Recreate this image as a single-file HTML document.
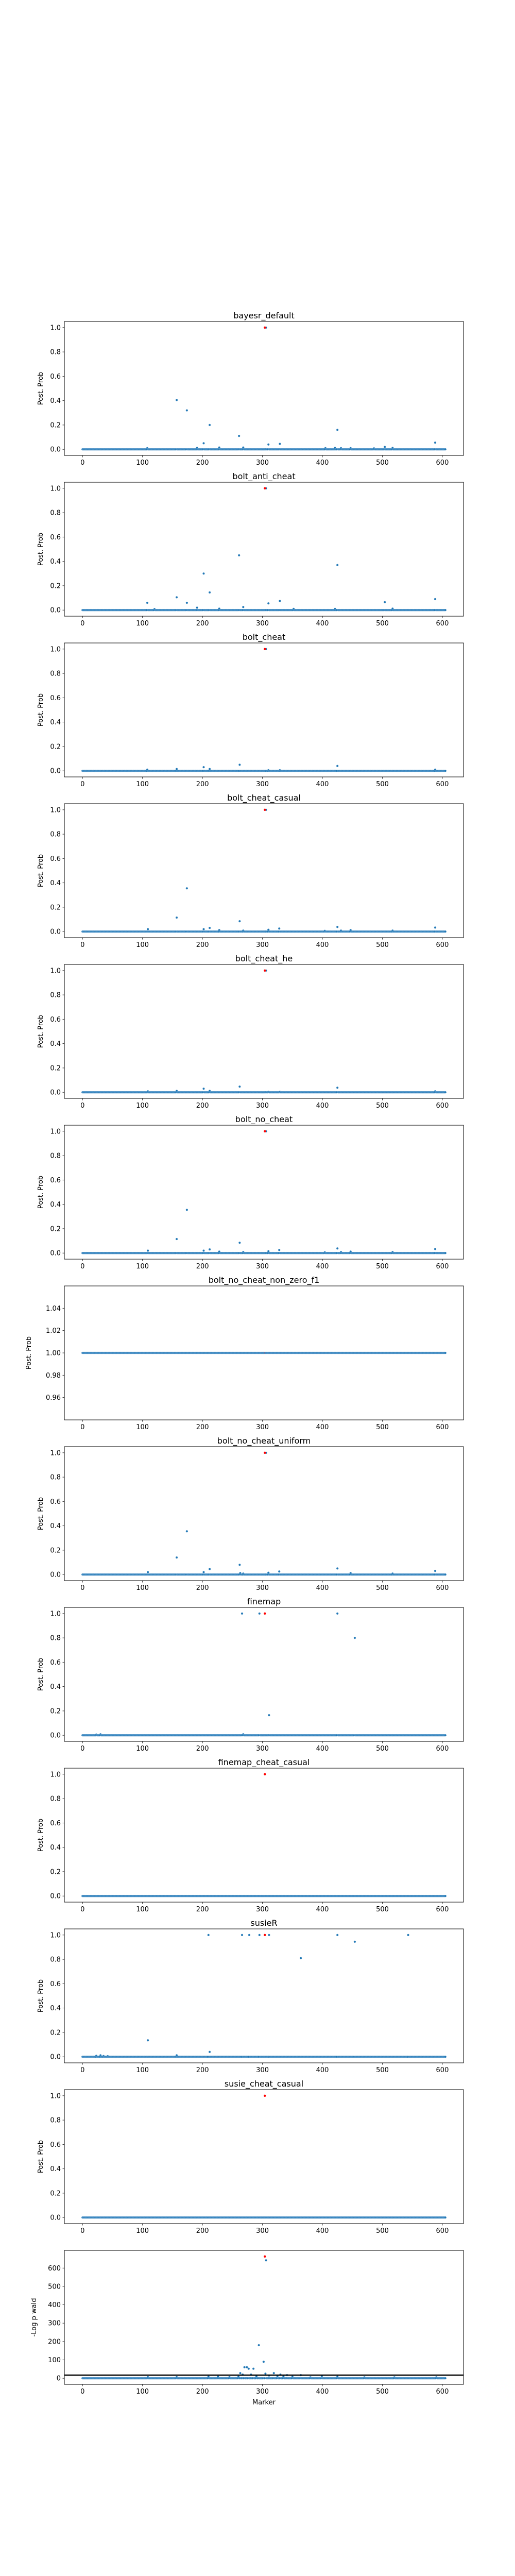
<!DOCTYPE html>
<html><head><meta charset="utf-8"><style>
html,body{margin:0;padding:0;background:#fff;width:1000px;height:5200px;overflow:hidden;position:relative;}
svg{display:block;position:absolute;left:0;top:0;font-family:"DejaVu Sans","Liberation Sans",sans-serif;}
</style></head><body><svg id="fig" width="1000" height="5200" viewBox="0 0 1000 5200" xmlns="http://www.w3.org/2000/svg"></svg><script>
// ---- data ----
const nMarkers = 606;
const causalMarker = 304;
const titles = ["bayesr_default","bolt_anti_cheat","bolt_cheat","bolt_cheat_casual","bolt_cheat_he","bolt_no_cheat","bolt_no_cheat_non_zero_f1","bolt_no_cheat_uniform","finemap","finemap_cheat_casual","susieR","susie_cheat_casual","gwas"];
const baseValues = [0,0,0,0,0,0,1,0,0,0,0,0,0];
// sparse non-baseline values: [marker, value]
const p0 = [[306,1],[157,0.405],[174,0.32],[212,0.2],[202,0.05],[261,0.11],[425,0.16],[310,0.04],[329,0.045],[504,0.02],[588,0.055],[228,0.015],[191,0.012],[405,0.01],[421,0.012],[517,0.012],[268,0.015],[108,0.01],[431,0.01],[447,0.01],[486,0.008]];
const p1 = [[306,1],[261,0.45],[425,0.37],[202,0.30],[212,0.145],[157,0.105],[174,0.06],[108,0.06],[588,0.09],[329,0.075],[504,0.065],[310,0.055],[268,0.025],[191,0.02],[228,0.012],[352,0.01],[421,0.01],[517,0.012],[120,0.008]];
const p2 = [[306,1],[262,0.05],[425,0.04],[202,0.03],[157,0.015],[212,0.015],[108,0.01],[588,0.01],[310,0.005],[329,0.005]];
const p3 = [[306,1],[157,0.115],[174,0.355],[262,0.085],[109,0.02],[202,0.02],[212,0.03],[228,0.012],[310,0.015],[328,0.025],[425,0.038],[447,0.012],[588,0.033],[517,0.008],[268,0.008],[431,0.008],[404,0.006]];
const p4 = [[306,1],[109,0.008],[157,0.012],[202,0.03],[212,0.012],[262,0.047],[425,0.038],[588,0.008],[310,0.004],[329,0.004]];
const p5 = [[306,1],[157,0.115],[174,0.355],[262,0.085],[109,0.02],[202,0.02],[212,0.03],[228,0.012],[310,0.015],[328,0.025],[425,0.038],[447,0.012],[588,0.033],[517,0.008],[268,0.008],[431,0.008],[404,0.006]];
const p6 = [];
const p7 = [[306,1],[157,0.14],[174,0.355],[262,0.08],[109,0.02],[202,0.02],[212,0.045],[425,0.05],[310,0.015],[328,0.025],[588,0.03],[447,0.012],[263,0.012],[268,0.008],[517,0.008]];
const p8 = [[266,1],[295,1],[425,1],[454,0.8],[311,0.165],[23,0.006],[30,0.008],[268,0.008]];
const p9 = [];
const p10 = [[210,1],[266,1],[278,1],[295,1],[311,1],[425,1],[543,1],[454,0.945],[364,0.81],[109,0.135],[212,0.04],[157,0.012],[23,0.008],[30,0.012],[35,0.006],[42,0.005]];
const p11 = [];
const p12 = [[306,642],[294,180],[302,90],[270,60],[274,60],[277,52],[285,52],[263,28],[319,28],[305,25],[267,20],[281,20],[330,20],[341,17],[364,17],[399,12],[425,8],[311,15],[226,8],[210,8],[157,6],[109,6],[290,10],[325,12],[335,10],[260,8],[245,6],[350,8],[380,5],[470,5],[520,5],[590,5]];
const causalValues = [1,1,1,1,1,1,1,1,1,1,1,1,663];
const yTicks01 = [0.0,0.2,0.4,0.6,0.8,1.0];
const yTickLabels01 = ["0.0","0.2","0.4","0.6","0.8","1.0"];
const yTicksConst = [0.96,0.98,1.00,1.02,1.04];
const yTickLabelsConst = ["0.96","0.98","1.00","1.02","1.04"];
const yTicksGwas = [0,100,200,300,400,500,600];
const xTicks = [0,100,200,300,400,500,600];
const thresholdValue = 17;

const sparse = [p0,p1,p2,p3,p4,p5,p6,p7,p8,p9,p10,p11,p12];
const NS = "http://www.w3.org/2000/svg";
const svg = document.getElementById('fig');
function mk(tag, attrs, parent){const e=document.createElementNS(NS,tag);for(const k in attrs)e.setAttribute(k,attrs[k]);(parent||svg).appendChild(e);return e;}

const L=125, R=900, H=260, TOP0=624, PITCH=312;
const xmin=-30.25, xmax=(nMarkers-1)+30.25;
function xs(v){return L+(v-xmin)/(xmax-xmin)*(R-L);}

for(let i=0;i<titles.length;i++){
  const top=TOP0+PITCH*i, bot=top+H;
  const g=mk('g',{});
  
  
  let ymin,ymax,ticks,labels;
  const vals=new Array(nMarkers).fill(baseValues[i]);
  for(const [m,v] of sparse[i]) vals[m]=v;
  if(i===6){ymin=0.94;ymax=1.06;ticks=yTicksConst;labels=yTickLabelsConst;}
  else if(i===12){const mx=Math.max(causalValues[i],...vals);ymin=-0.05*mx;ymax=1.05*mx;ticks=yTicksGwas;labels=yTicksGwas.map(String);}
  else {ymin=-0.05;ymax=1.05;ticks=yTicks01;labels=yTickLabels01;}
  const ys=v=>bot-(v-ymin)/(ymax-ymin)*H;
  if(i<12){
    const t=mk('text',{x:(L+R)/2,y:top-6,'text-anchor':'middle','font-size':'16',fill:'#000'},g);
    t.textContent=titles[i];
    
    
  }
  const pts=mk('g',{},g);
  
  
  for(let m=0;m<nMarkers;m++){
    mk('circle',{cx:xs(m).toFixed(2),cy:ys(vals[m]).toFixed(2),r:2,fill:'#1f77b4',stroke:'#7fb0d9','stroke-width':0.4},pts);
  }
  const rc=mk('circle',{cx:xs(causalMarker),cy:ys(causalValues[i]),r:i===6?0.8:2.2,fill:'#ff0000'},g);
  
  
  if(i===12){
    const ln=mk('line',{x1:L,x2:R,y1:ys(thresholdValue),y2:ys(thresholdValue),stroke:'#000','stroke-width':2.5},g);
    
    
  }
  const fr=mk('rect',{x:L,y:top,width:R-L,height:H,fill:'none',stroke:'#000','stroke-width':1},g);
  
  
  for(let k=0;k<xTicks.length;k++){
    const x=xs(xTicks[k]);
    mk('line',{x1:x,x2:x,y1:bot,y2:bot+3.5,stroke:'#000','stroke-width':0.8},g);
    const t=mk('text',{x:x,y:bot+18,'text-anchor':'middle','font-size':'13',fill:'#000'},g);
    t.textContent=String(xTicks[k]);
    
    
  }
  for(let k=0;k<ticks.length;k++){
    const y=ys(ticks[k]);
    mk('line',{x1:L-3.5,x2:L,y1:y,y2:y,stroke:'#000','stroke-width':0.8},g);
    const t=mk('text',{x:L-7,y:y+4.5,'text-anchor':'end','font-size':'13',fill:'#000'},g);
    t.textContent=labels[k];
    
    
  }
  const yl=mk('text',{x:0,y:0,transform:`translate(${i===6?60:(i===12?70:83)},${top+H/2}) rotate(-90)`,'text-anchor':'middle','font-size':'13',fill:'#000'},g);
  yl.textContent=i===12?'-Log p wald':'Post. Prob';
  
  
  if(i===12){
    const xl=mk('text',{x:(L+R)/2,y:bot+39,'text-anchor':'middle','font-size':'13',fill:'#000'},g);
    xl.textContent='Marker';
    
    
  }
}
</script></body></html>
